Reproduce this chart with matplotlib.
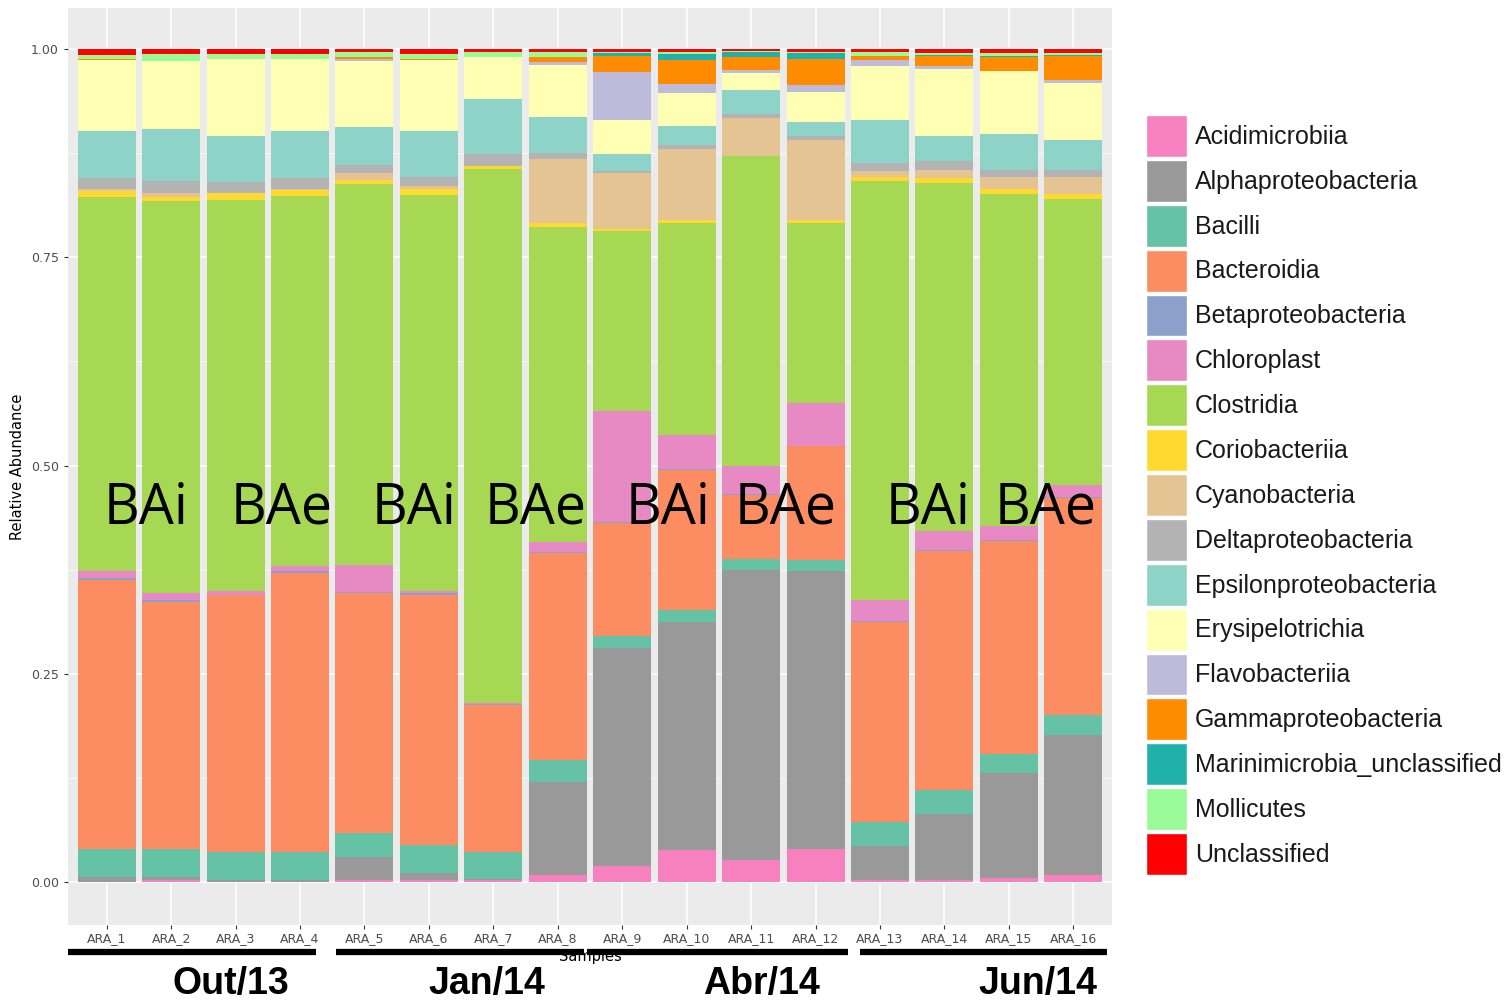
import numpy as np
import matplotlib.pyplot as plt
from matplotlib.lines import Line2D

samples = ["ARA_%d" % i for i in range(1, 17)]

classes = ["Acidimicrobiia", "Alphaproteobacteria", "Bacilli", "Bacteroidia",
           "Betaproteobacteria", "Chloroplast", "Clostridia", "Coriobacteriia",
           "Cyanobacteria", "Deltaproteobacteria", "Epsilonproteobacteria",
           "Erysipelotrichia", "Flavobacteriia", "Gammaproteobacteria",
           "Marinimicrobia_unclassified", "Mollicutes", "Unclassified"]

colors = ["#F781BF", "#999999", "#66C2A5", "#FC8D62", "#8DA0CB", "#E78AC3",
          "#A6D854", "#FFD92F", "#E5C494", "#B3B3B3", "#8DD3C7", "#FFFFB3",
          "#BEBADA", "#FF8C00", "#20B2AA", "#98FB98", "#FF0000"]

# relative abundance per sample (ARA_1 .. ARA_16), one list per class
acidimicrobiia = [0, .002, 0, 0, .002, .002, .002, .009, .019, .038, .026, .040, .002, .003, .005, .008]
alphaproteo = [.006, .004, .003, .002, .028, .009, .002, .111, .262, .274, .349, .333, .041, .079, .126, .168]
bacilli = [.034, .034, .033, .034, .029, .033, .032, .027, .014, .015, .013, .014, .029, .029, .023, .024]
bacteroidia = [.322, .296, .308, .335, .288, .301, .176, .248, .136, .168, .077, .136, .240, .286, .255, .261]
betaproteo = [.0025, .0025, .001, .002, .0015, .002, .0015, .001, .0015, .001, .001, .001, .001, .002, .002, .001]
chloroplast = [.0085, .0085, .004, .006, .0325, .002, .0015, .012, .1325, .041, .034, .051, .025, .022, .016, .015]
clostridia = [.449, .470, .470, .445, .457, .476, .641, .378, .216, .254, .372, .216, .504, .418, .399, .343]
coriobacteriia = [.007, .005, .008, .007, .005, .007, .003, .005, .003, .004, 0, .004, .004, .006, .006, .006]
cyanobacteria = [.003, .005, 0, .001, .008, .003, 0, .077, .067, .085, .045, .096, .008, .010, .014, .020]
deltaproteo = [.013, .015, .013, .013, .010, .011, .015, .007, .002, .005, .005, .004, .009, .010, .009, .009]
epsilonproteo = [.056, .062, .056, .057, .045, .056, .066, .043, .021, .023, .029, .017, .052, .030, .043, .036]
erysipelotrichia = [.086, .082, .092, .086, .080, .085, .050, .063, .041, .039, .020, .036, .065, .081, .075, .068]
flavobacteriia = [0, 0, 0, 0, .002, 0, 0, .003, .057, .011, .004, .009, .007, .004, .001, .004]
gammaproteo = [.001, 0, 0, 0, .002, .001, 0, .006, .019, .029, .015, .031, .004, .011, .016, .028]
marinimicrobia = [0, 0, 0, 0, 0, 0, 0, 0, .004, .007, .006, .007, 0, .002, .001, .002]
mollicutes = [.005, .008, .006, .006, .006, .006, .006, .006, .001, .002, .002, .001, .005, .002, .004, .002]
unclassified = [.007, .006, .006, .006, .004, .006, .004, .004, .004, .004, .002, .004, .004, .005, .005, .005]

abundance = [acidimicrobiia, alphaproteo, bacilli, bacteroidia, betaproteo, chloroplast,
             clostridia, coriobacteriia, cyanobacteria, deltaproteo, epsilonproteo,
             erysipelotrichia, flavobacteriia, gammaproteo, marinimicrobia, mollicutes,
             unclassified]

groups = ["BAi", "BAe"] * 4
periods = ["Out/13", "Jan/14", "Abr/14", "Jun/14"]

W, H = 1510, 1001
fig = plt.figure(figsize=(W / 100, H / 100), dpi=100)
ax = fig.add_axes([68 / W, 1 - 925 / H, (1112 - 68) / W, (925 - 8) / H])

x = np.arange(1, 17)
bottom = np.zeros(16)
bars = []
for name, vals, c in zip(classes, abundance, colors):
    vals = np.array(vals)
    b = ax.bar(x, vals, width=0.9, bottom=bottom, color=c, label=name, zorder=3, linewidth=0)
    bars.append(b)
    bottom += vals

ax.set_facecolor("#EBEBEB")
ax.set_xlim(0.4, 16.6)
ax.set_ylim(-0.0516, 1.0492)
ax.set_yticks([0, .25, .5, .75, 1])
ax.set_yticklabels(["0.00", "0.25", "0.50", "0.75", "1.00"])
ax.set_yticks([.125, .375, .625, .875], minor=True)
ax.set_xticks(x)
ax.set_xticklabels(samples)
ax.grid(which="major", color="white", linewidth=1.1, zorder=0)
ax.grid(which="minor", axis="y", color="white", linewidth=0.5, zorder=0)
for s in ax.spines.values():
    s.set_visible(False)
ax.tick_params(which="major", length=3, color="#333333", labelcolor="#4D4D4D", labelsize=9)
ax.tick_params(axis="x", pad=2)
ax.tick_params(which="minor", length=0)
ax.set_ylabel("Relative Abundance", fontsize=10.5, labelpad=4)
ax.set_xlabel("Samples", fontsize=10.5, labelpad=3)

leg = fig.legend(handles=[b[0] for b in bars], labels=classes, loc="upper left",
                 bbox_to_anchor=(1146 / W, 1 - 115 / H), bbox_transform=fig.transFigure,
                 frameon=False, handlelength=1.65, handleheight=2.2,
                 labelspacing=0.12, handletextpad=0.3, borderpad=0, borderaxespad=0,
                 prop={"family": "Liberation Sans", "size": 18})
for h in leg.legend_handles:
    h.set_edgecolor("white")
    h.set_linewidth(1)
for t in leg.get_texts():
    t.set_color("#1A1A1A")

# treatment labels over each pair of bars
label_x = [146, 282, 414, 536, 668, 786, 928, 1046]
for g, px in zip(groups, label_x):
    fig.text(px / W, 1 - 509 / H, g, fontsize=40, family="Open Sans",
             ha="center", va="center", zorder=10)

# sampling period brackets under the axis
spans = [(68, 316), (336, 584), (587, 848), (860, 1107)]
period_x = [231, 487, 762, 1038]
for (x0, x1), p, px in zip(spans, periods, period_x):
    fig.add_artist(Line2D([x0 / W, x1 / W], [1 - 952 / H, 1 - 952 / H], color="black",
                          linewidth=4.5, solid_capstyle="butt", transform=fig.transFigure))
    fig.text(px / W, 1 - 984 / H, p, fontsize=27, fontweight="bold",
             family="Liberation Sans", ha="center", va="center")

fig.savefig("out.png", dpi=100)
